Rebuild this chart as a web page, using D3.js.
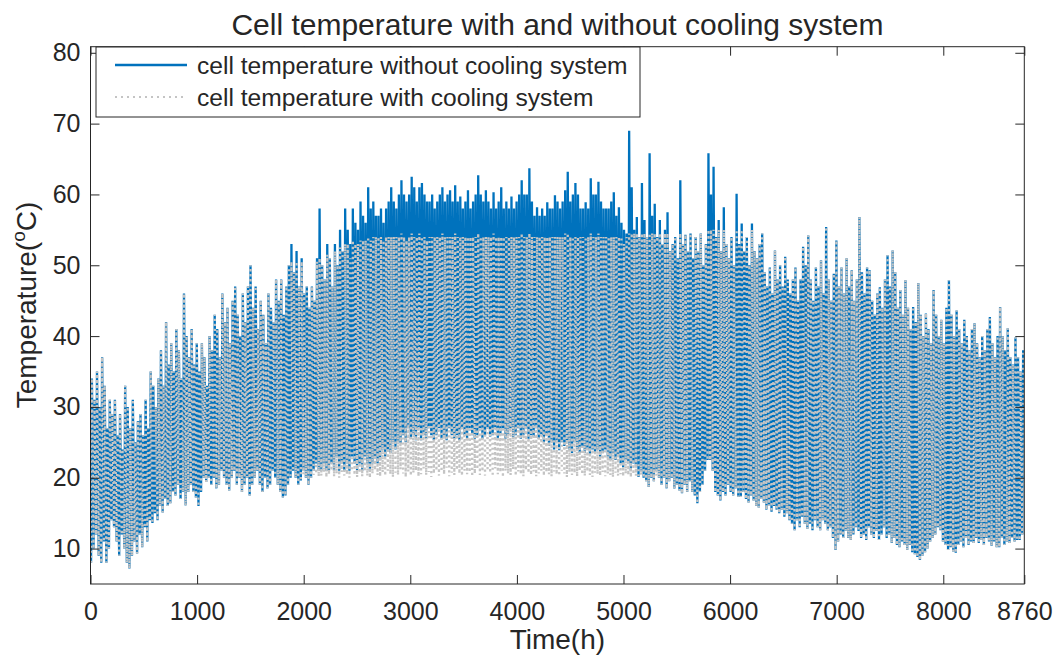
<!DOCTYPE html>
<html>
<head>
<meta charset="utf-8">
<script src="https://cdn.jsdelivr.net/npm/d3@7"></script>
<style>
  body { margin: 0; background: #fff; }
  text { font-family: "Liberation Sans", Arial, Helvetica, sans-serif; fill: #262626; }
</style>
</head>
<body>
<svg id="chart" width="1059" height="664"></svg>
<script>
// daily peak / night values (deg C), day 0..364
var hiNoCool = [
  34,31,35,30,37,33,27,31,29,31,26,29,24,33,30,27,31,25,28,29,26,31,27,35,33,30,34,38,33,42,
  36,39,35,41,38,34,46,40,37,41,36,39,35,39,37,33,40,38,43,41,37,46,42,44,39,45,47,43,40,46,
  42,47,50,44,47,41,45,43,39,46,44,42,48,45,48,43,47,50,53,49,52,47,51,46,47,44,47,45,51,58,
  50,48,53,51,47,53,50,55,52,58,55,53,58,56,55,59,57,56,61,58,59,57,57,58,56,58,59,61,59,58,
  60,62,60,59,60,62.5,61,59,61,61.6,60,59,59,60,58,59,60,61,59,60,60.6,59,61.3,59,59.7,58,59,60.6,58,59,
  60,62.7,60,59,60.6,59,58,60.3,58,59,61,58,59,58,59.7,58,59,60,62,60,60,63.7,59,57,58.2,57,58,57,58.9,58,
  58,59.9,59,58,59,60.6,63.2,59,60,61.6,60,58,58,58.9,58,62.3,60,60,61.8,59,58,58,58,59,60.3,57,58.2,56,55,54.5,
  69,61,55,56.8,54,61.6,56.4,54,65.8,57,58.7,54,56.4,53,55,57.5,52,53,54,51,62,53,54.3,52,54.5,51,54,52,54.5,50,
  53,65.8,60,63.9,54,56.4,52,58.2,53,51,54,50,60.1,53,55.9,52,54,50,55.9,52,51,53,54.5,49,47,49.7,46,52.1,48,50,
  47,51.2,48,46,48,49.7,45,48,52.6,50,54.2,48,45,49.7,47,50.7,46,55.4,48,45,48.8,53.5,47,49.7,46,51,47,49.3,45,48,
  56.8,49,46,49.7,49.3,45,43,46,46.9,44,48,51.4,47,52.1,49,44,46.5,43,47.9,44,41,44.1,42,47.5,43,40,43.2,41,39,46.5,
  43,40,42.3,39,44,47.9,43,40,43.6,41,39,42.3,40,38,41,41.8,39,37,40,38,41,42.7,39,37,40,44.1,40,38,41.1,37,36,39.8,37,35,38
];
var loNoCool = [
  8,10,12,9,8,11,8,10,14,13,11,9,12,10,8,7.2,9,11,9.3,12,10.2,13,11,14,13.6,15,14,16,15.1,17,
  16,16.4,18,17.5,19,17,18,16.1,18,19,18,17.2,16,18,20,19.4,20,19,20,18.5,19,21,20,19,18.2,20,21,19,20,18,
  19,20,17.5,19,20,21,19,18,20,18.5,19,21,20,19,18,17.2,17.5,19,20,21,20,19,19.6,21,20,19,20,21,22,21,
  21,22,21,21,22,21,23,21,22,21,22,21,23,22,21,22,21,23,22,21,22,23,22,22.5,24,23,24,23.5,25,24,
  25,24.9,26,25,27,25.5,26,25.3,27,25.3,26,25.5,27,26,25.3,26,27,25.5,26,25.3,27,26,25.5,26,25.3,27,26,25.5,27,26,
  25.5,26,27,25.5,26,27,25.8,26,27,25.5,26,27,25.5,26,27,25.6,26,27,25.5,26,27,25.5,26,25.8,27,25.5,26,25,26,24.5,
  25,24,25,23.9,25,24.5,25,24,23.5,25,24,23.5,24.5,23.5,24,23.2,24,23.5,24,22.9,23.5,24,23,22.5,23.5,22.5,23,22,21.5,22.5,
  22,21,22,21.5,20.1,21,20,19.5,18.7,20,19.5,21,20,19,20,18.5,19.5,20,18.5,19,18.2,17.8,19,18,19.5,18,17.5,16.4,18,19,
  21,22.5,22.5,21,18,17.5,16.8,18,17.5,19,18,17.5,18.5,17.3,17.3,18,17,16.5,17.5,16.8,16,15.8,17,16.5,15.5,16,15.2,16,15.5,15,
  15.5,14.5,15,14,13.5,12.6,14,13,14.5,13.5,12.8,13.5,12.6,14,13,12.6,14,13.5,12.6,13,11.5,9.8,11,12,11.5,12.5,11.5,11.2,12,13,
  12.5,11.5,12,11.2,13,12,11.5,12.5,11.2,12,13,11.5,12,10.8,11.5,10.5,10.2,11,10.5,9.8,10.5,9.5,9.2,8.8,8.4,9,9.5,10,11,11.5,
  12,13,12.6,11,10.5,9.8,10.2,9.6,9.4,10.5,11,10.2,11.5,10.5,11,10.8,11.5,10.8,11.2,10.5,11.5,11,10.4,11,10.2,10.2,11.5,10.5,11,10.8,11.5,11,11.2,11.2,12
];
var hiCool = [
  34,31,35,30,37,33,27,31,29,31,26,29,24,33,30,27,31,25,28,29,26,31,27,35,33,30,34,38,33,42,
  36,39,35,41,38,34,46,40,37,41,36,39,35,39,37,33,40,38,43,41,37,46,42,44,39,45,47,43,40,46,
  42,47,50,44,47,41,45,43,39,46,44,42,48,45,48,43,47,50,50.5,49,50.5,47,50.5,46,47,44,47,45,50.5,51,
  50,48,51.5,51,47,52,50,52.5,52,53,53,51,53.5,53,53,53.5,53.5,53.5,54,53.5,54,54,54,54,53.5,54,54,54,54,54,
  54,54.5,54,53.5,54,54.5,54,54,54.5,54,54,53.5,54,54,54,54,54,54.5,54,54,54,54,54.5,54,54,54,54,54,54,54,
  54,54.5,54,54,54,54,54,54.5,54,54,54,54,54,54,54,54,54,54,54.5,54,54,54.5,54,54,54,54,54,54,54,54,
  54,54,54,54,54,54.5,54.5,54,54,54,54,54,54,54,54,54.5,54,54,54.5,54,54,54,54,54,54,54,54,54,53,54,
  54.5,54.5,54.5,54.5,54,54.5,54.5,54,54.5,54.5,54.5,54,54.5,53,54.5,54.5,52,53,54,51,54.5,53,54.3,52,54.5,51,54,52,54.5,50,
  53,55,55,55,54,55,52,55,53,51,54,50,55,53,55,52,54,50,55,52,51,53,54.5,49,47,49.7,46,52.1,48,50,
  47,51.2,48,46,48,49.7,45,48,52.6,50,54.2,48,45,49.7,47,50.7,46,55.4,48,45,48.8,53.5,47,49.7,46,51,47,49.3,45,48,
  56.8,49,46,49.7,49.3,45,43,46,46.9,44,48,51.4,47,52.1,49,44,46.5,43,47.9,44,41,44.1,42,47.5,43,40,43.2,41,39,46.5,
  43,40,42.3,39,44,47.9,43,40,43.6,41,39,42.3,40,38,41,41.8,39,37,40,38,41,42.7,39,37,40,44.1,40,38,41.1,37,36,39.8,37,35,38
];
var loCool = [
  8,10,12,9,8,11,8,10,14,13,11,9,12,10,8,7.2,9,11,9.3,12,10.2,13,11,14,13.6,15,14,16,15.1,17,
  16,16.4,18,17.5,19,17,18,16.1,18,19,18,17.2,16,18,20,19.4,20,19,20,18.5,19,21,20,19,18.2,20,21,19,20,18,
  19,20,17.5,19,20,21,19,18,20,18.5,19,21,20,19,18,17.2,17.5,19,20,21,20,19,19.6,20.5,20,19,20,20.4,20.6,20.2,
  20.3,20.8,20.1,20.5,21,20.2,20.6,20,20.8,20.3,20.5,20,21,20.4,20.1,20.7,20.2,20.9,20.3,20,20.6,21.1,20.4,20.2,20.8,20.3,21,20.5,20.1,20.7,
  20.4,21.2,20.6,20.1,20.9,20.3,20.7,21,20.2,20.5,21.3,20.4,20.8,20.1,20.6,21,20.3,20.9,20.5,21.4,20.2,20.7,20.4,21.1,20.6,20.3,21,20.5,20.8,20.2,
  20.6,21.2,20.4,20.9,20.3,21,20.7,20.2,21.3,20.5,20.8,20.1,21,20.6,20.4,21.2,20.3,20.9,20.5,20.2,21.1,20.7,20.4,20.9,20.2,20.6,21,20.3,20.8,20.5,
  20.2,20.9,20.5,20.3,21,20.6,20.1,20.8,20.4,20.7,20.2,21,20.5,20.3,20.9,20.4,20.1,20.7,20.5,20.3,20.8,20.2,20.6,20.4,20.1,20.7,20.3,20.5,20.2,20.6,
  20.4,20.1,20.5,20.3,20,20.4,20,19.5,18.7,20,19.5,20.3,20,19,20,18.5,19.5,20,18.5,19,18.2,17.8,19,18,19.5,18,17.5,16.4,18,19,
  21,22.5,22.5,21,18,17.5,16.8,18,17.5,19,18,17.5,18.5,17.3,17.3,18,17,16.5,17.5,16.8,16,15.8,17,16.5,15.5,16,15.2,16,15.5,15,
  15.5,14.5,15,14,13.5,12.6,14,13,14.5,13.5,12.8,13.5,12.6,14,13,12.6,14,13.5,12.6,13,11.5,9.8,11,12,11.5,12.5,11.5,11.2,12,13,
  12.5,11.5,12,11.2,13,12,11.5,12.5,11.2,12,13,11.5,12,10.8,11.5,10.5,10.2,11,10.5,9.8,10.5,9.5,9.2,8.8,8.4,9,9.5,10,11,11.5,
  12,13,12.6,11,10.5,9.8,10.2,9.6,9.4,10.5,11,10.2,11.5,10.5,11,10.8,11.5,10.8,11.2,10.5,11.5,11,10.4,11,10.2,10.2,11.5,10.5,11,10.8,11.5,11,11.2,11.2,12
];
// hour of the day at which the night value and the peak occur
var nightHour = 5, peakHour = 13;

var xTicks = [0, 1000, 2000, 3000, 4000, 5000, 6000, 7000, 8000, 8760];
var yTicks = [10, 20, 30, 40, 50, 60, 70, 80];
var seriesNames = ["cell temperature without cooling system", "cell temperature with cooling system"];

var blue = "#0072BD", grey = "#c4c4c4", ink = "#262626";

var svg = d3.select("#chart");
// note: "top" is taken by window.top, so the plot box edges get their own names
var boxL = 90.5, boxR = 1024.3, boxT = 46.7, boxB = 584;

var x = d3.scaleLinear().domain([0, 8760]).range([boxL, boxR]);
var y = d3.scaleLinear().domain([5, 80.86]).range([boxB, boxT]);

// join night / peak values into an hourly-positioned series
function toPoints(lo, hi) {
	var pts = [];
	for (var d = 0; d < lo.length; d++) {
		pts.push({h: d * 24 + nightHour, t: lo[d]});
		pts.push({h: d * 24 + peakHour, t: hi[d]});
	}
	return pts;
}

svg.append("defs").append("clipPath").attr("id", "plotclip")
	.append("rect").attr("x", boxL).attr("y", boxT)
	.attr("width", boxR - boxL).attr("height", boxB - boxT);

var line = d3.line().x(function(d) { return x(d.h); }).y(function(d) { return y(d.t); });

var plot = svg.append("g").attr("clip-path", "url(#plotclip)");
plot.append("path").datum(toPoints(loNoCool, hiNoCool))
	.attr("d", line).attr("fill", "none")
	.attr("stroke", blue).attr("stroke-width", 2.3);
plot.append("path").datum(toPoints(loCool, hiCool))
	.attr("d", line).attr("fill", "none")
	.attr("stroke", grey).attr("stroke-width", 2.3)
	.attr("stroke-dasharray", "2,3");

// axes, ticks pointing inward on all four sides
function styleAxis(g, size) {
	g.select(".domain").remove();
	g.selectAll("line").attr("stroke", ink);
	g.selectAll("text").attr("font-size", size).attr("fill", ink)
		.attr("font-family", "Liberation Sans, Arial, sans-serif");
}
svg.append("g").attr("transform", "translate(0," + boxB + ")")
	.call(d3.axisBottom(x).tickValues(xTicks).tickFormat(d3.format("d")).tickSize(-9).tickPadding(18))
	.call(styleAxis, 25);
svg.append("g").attr("transform", "translate(0," + boxT + ")")
	.call(d3.axisTop(x).tickValues(xTicks).tickFormat("").tickSize(-9))
	.call(styleAxis, 25);
svg.append("g").attr("transform", "translate(" + boxL + ",0)")
	.call(d3.axisLeft(y).tickValues(yTicks).tickSize(-9).tickPadding(10))
	.call(styleAxis, 25);
svg.append("g").attr("transform", "translate(" + boxR + ",0)")
	.call(d3.axisRight(y).tickValues(yTicks).tickFormat("").tickSize(-9))
	.call(styleAxis, 25);

svg.append("rect").attr("x", boxL).attr("y", boxT)
	.attr("width", boxR - boxL).attr("height", boxB - boxT)
	.attr("fill", "none").attr("stroke", ink).attr("stroke-width", 1);

// title and axis labels
svg.append("text").attr("x", (boxL + boxR) / 2).attr("y", 35)
	.attr("text-anchor", "middle").attr("font-size", 30).attr("fill", "#111")
	.text("Cell temperature with and without cooling system");
svg.append("text").attr("x", (boxL + boxR) / 2).attr("y", 649)
	.attr("text-anchor", "middle").attr("font-size", 28)
	.text("Time(h)");
var ylab = svg.append("text")
	.attr("transform", "translate(36,305) rotate(-90)")
	.attr("text-anchor", "middle").attr("font-size", 28);
ylab.append("tspan").text("Temperature(");
ylab.append("tspan").attr("font-size", 19).attr("dy", -11).text("o");
ylab.append("tspan").attr("dy", 11).text("C)");

// legend
var lg = svg.append("g");
lg.append("rect").attr("x", 96).attr("y", 47).attr("width", 544).attr("height", 70)
	.attr("fill", "#fff").attr("stroke", ink).attr("stroke-width", 1);
var legendRows = [
	{name: seriesNames[0], color: blue, width: 2.6, dash: null, y: 65},
	{name: seriesNames[1], color: grey, width: 2, dash: "2,4", y: 97}
];
legendRows.forEach(function(r) {
	lg.append("line").attr("x1", 115).attr("x2", 187).attr("y1", r.y).attr("y2", r.y)
		.attr("stroke", r.color).attr("stroke-width", r.width)
		.attr("stroke-dasharray", r.dash);
	lg.append("text").attr("x", 197).attr("y", r.y + 8.5)
		.attr("font-size", 24.6).attr("fill", "#111").text(r.name);
});
</script>
</body>
</html>
